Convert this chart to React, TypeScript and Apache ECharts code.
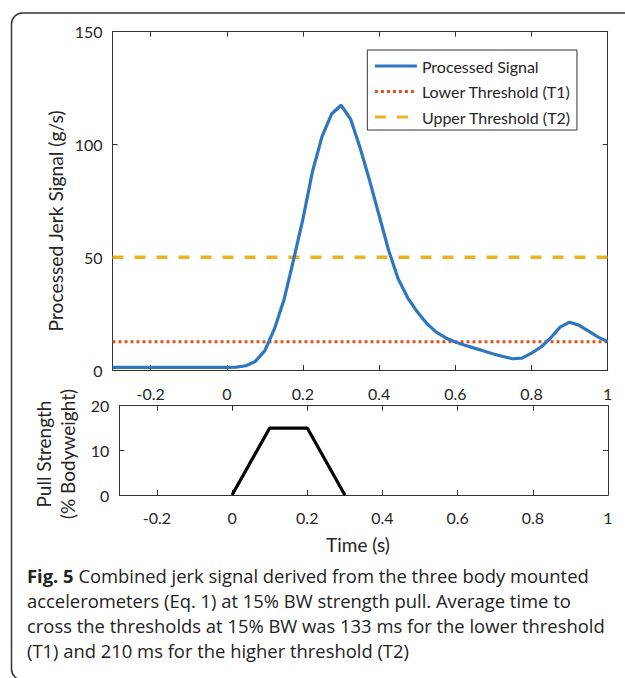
import React, { useEffect, useRef } from "react";
import * as echarts from "echarts";

// ---- data ----
const signalTime = [
  -0.3, -0.275, -0.25, -0.225, -0.2, -0.175, -0.15, -0.125, -0.1, -0.075, -0.05, -0.025, 0,
  0.025, 0.05, 0.075, 0.1, 0.125, 0.15, 0.175, 0.2, 0.225, 0.25, 0.275, 0.3, 0.325, 0.35,
  0.375, 0.4, 0.425, 0.45, 0.475, 0.5, 0.525, 0.55, 0.575, 0.6, 0.625, 0.65, 0.675, 0.7,
  0.725, 0.75, 0.775, 0.8, 0.825, 0.85, 0.875, 0.9, 0.925, 0.95, 0.975, 1.0,
];
const signalValue = [
  1.2, 1.2, 1.2, 1.2, 1.2, 1.2, 1.2, 1.2, 1.2, 1.2, 1.2, 1.2, 1.2,
  1.3, 1.9, 3.8, 8.6, 18.2, 31.0, 48.6, 67.0, 88.0, 103.5, 113.5, 117.4, 111.3, 98.5,
  84.0, 68.5, 53.0, 40.4, 32.0, 25.8, 20.6, 16.8, 14.2, 12.4, 11.0, 9.7, 8.4, 7.1,
  6.0, 5.0, 5.3, 7.5, 10.2, 14.2, 19.0, 21.2, 19.8, 17.2, 14.6, 12.6,
];
const thresholdTime = [-0.3, 1];
const lowerThreshold = [12.5, 12.5];
const upperThreshold = [50, 50];
const pullTime = [0, 0.1, 0.2, 0.3];
const pullValue = [0, 15, 15, 0];
const timeTicks = [-0.2, 0, 0.2, 0.4, 0.6, 0.8, 1];
const seriesNames = ["Processed Signal", "Lower Threshold (T1)", "Upper Threshold (T2)"];
const captionBold = "Fig. 5";
const captionLines = [
  " Combined jerk signal derived from the three body mounted",
  "accelerometers (Eq. 1) at 15% BW strength pull. Average time to",
  "cross the thresholds at 15% BW was 133 ms for the lower threshold",
  "(T1) and 210 ms for the higher threshold (T2)",
];

const FONT = "Lato";
const CAPFONT = "Open Sans";
const AXIS = "#333333";
const TXT = "#262626";

function xAx(gridIndex: number, position: string, showLabel: boolean, margin: number) {
  const label: any = showLabel
    ? {
        show: true,
        customValues: timeTicks,
        margin,
        color: TXT,
        fontFamily: FONT,
        fontSize: 16,
        formatter: (v: number) => String(v),
      }
    : { show: false };
  return {
    type: "value",
    gridIndex,
    position,
    min: -0.3,
    max: 1,
    axisLine: { show: true, onZero: false, lineStyle: { color: AXIS, width: 1 } },
    axisTick: { show: true, inside: true, length: 5, customValues: timeTicks, lineStyle: { color: AXIS } },
    axisLabel: label,
    splitLine: { show: false },
  };
}

function yAx(gridIndex: number, position: string, showLabel: boolean, max: number, interval: number) {
  return {
    type: "value",
    gridIndex,
    position,
    min: 0,
    max,
    interval,
    axisLine: { show: true, onZero: false, lineStyle: { color: AXIS, width: 1 } },
    axisTick: { show: true, inside: true, length: 5, lineStyle: { color: AXIS } },
    axisLabel: { show: showLabel, margin: 10, color: TXT, fontFamily: FONT, fontSize: 16 },
    splitLine: { show: false },
  };
}

export default function App() {
  const ref = useRef<HTMLDivElement>(null);
  useEffect(() => {
    if (!ref.current) return;
    const chart = echarts.init(ref.current, undefined, { renderer: "svg" });
    const option: any = {
      animation: false,
      backgroundColor: "#ffffff",
      grid: [
        { left: 112.5, top: 31.7, width: 495.2, height: 338.3 },
        { left: 119.3, top: 405.7, width: 488.7, height: 89.3 },
      ],
      xAxis: [xAx(0, "bottom", true, 15), xAx(0, "top", false, 8), xAx(1, "bottom", true, 14), xAx(1, "top", false, 8)],
      yAxis: [yAx(0, "left", true, 150, 50), yAx(0, "right", false, 150, 50), yAx(1, "left", true, 20, 10), yAx(1, "right", false, 20, 10)],
      legend: {
        data: seriesNames,
        orient: "vertical",
        left: 367.3,
        top: 50,
        padding: [8, 6, 5, 6],
        itemGap: 9.5,
        itemWidth: 42,
        itemHeight: 14,
        borderColor: AXIS,
        borderWidth: 1,
        borderRadius: 0,
        backgroundColor: "#ffffff",
        itemStyle: { opacity: 0 },
        lineStyle: { width: 3.2 },
        textStyle: { fontFamily: FONT, fontSize: 16, color: TXT },
      },
      series: [
        {
          name: seriesNames[0],
          type: "line",
          xAxisIndex: 0,
          yAxisIndex: 0,
          symbol: "none",
          z: 5,
          lineStyle: { color: "#2E76BE", width: 3.2 },
          itemStyle: { color: "#2E76BE" },
          data: signalTime.map((t, i) => [t, signalValue[i]]),
        },
        {
          name: seriesNames[1],
          type: "line",
          xAxisIndex: 0,
          yAxisIndex: 0,
          symbol: "none",
          z: 4,
          lineStyle: { color: "#D95319", width: 3, type: [3, 3] },
          itemStyle: { color: "#D95319" },
          data: thresholdTime.map((t, i) => [t, lowerThreshold[i]]),
        },
        {
          name: seriesNames[2],
          type: "line",
          xAxisIndex: 0,
          yAxisIndex: 0,
          symbol: "none",
          z: 4,
          lineStyle: { color: "#EDB120", width: 3.5, type: [11, 11] },
          itemStyle: { color: "#EDB120" },
          data: thresholdTime.map((t, i) => [t, upperThreshold[i]]),
        },
        {
          name: "Pull Strength",
          type: "line",
          xAxisIndex: 2,
          yAxisIndex: 2,
          symbol: "none",
          lineStyle: { color: "#000000", width: 3.2 },
          itemStyle: { color: "#000000" },
          data: pullTime.map((t, i) => [t, pullValue[i]]),
        },
      ],
      graphic: [
        {
          type: "rect",
          shape: { x: 11.5, y: 13, width: 640, height: 667, r: 11 },
          style: { fill: "none", stroke: "#333333", lineWidth: 1.5 },
          silent: true,
        },
        {
          type: "text",
          x: 55,
          y: 221,
          rotation: Math.PI / 2,
          style: {
            text: "Processed Jerk Signal (g/s)",
            align: "center",
            verticalAlign: "middle",
            fontFamily: FONT,
            fontSize: 19.3,
            fill: TXT,
          },
        },
        {
          type: "text",
          x: 43,
          y: 454,
          rotation: Math.PI / 2,
          style: { text: "Pull Strength", align: "center", verticalAlign: "middle", fontFamily: FONT, fontSize: 19, fill: TXT },
        },
        {
          type: "text",
          x: 67,
          y: 454,
          rotation: Math.PI / 2,
          style: { text: "(% Bodyweight)", align: "center", verticalAlign: "middle", fontFamily: FONT, fontSize: 19, fill: TXT },
        },
        {
          type: "text",
          x: 358,
          y: 544,
          style: { text: "Time (s)", align: "center", verticalAlign: "middle", fontFamily: FONT, fontSize: 19, fill: TXT },
        },
        ...captionLines.map((line, i) => ({
          type: "text",
          x: 27,
          y: 575 + i * 25.3,
          style: {
            text: i === 0 ? "{b|" + captionBold + "}" + line : line,
            align: "left",
            verticalAlign: "middle",
            fontFamily: CAPFONT,
            fontSize: 18.4,
            fill: "#222222",
            rich: { b: { fontFamily: CAPFONT, fontSize: 18.4, fontWeight: "bold", fill: "#222222" } },
          },
        })),
      ],
    };
    chart.setOption(option);
    return () => chart.dispose();
  }, []);
  return <div ref={ref} style={{ position: "absolute", left: 0, top: 0, width: 625, height: 678 }} />;
}
